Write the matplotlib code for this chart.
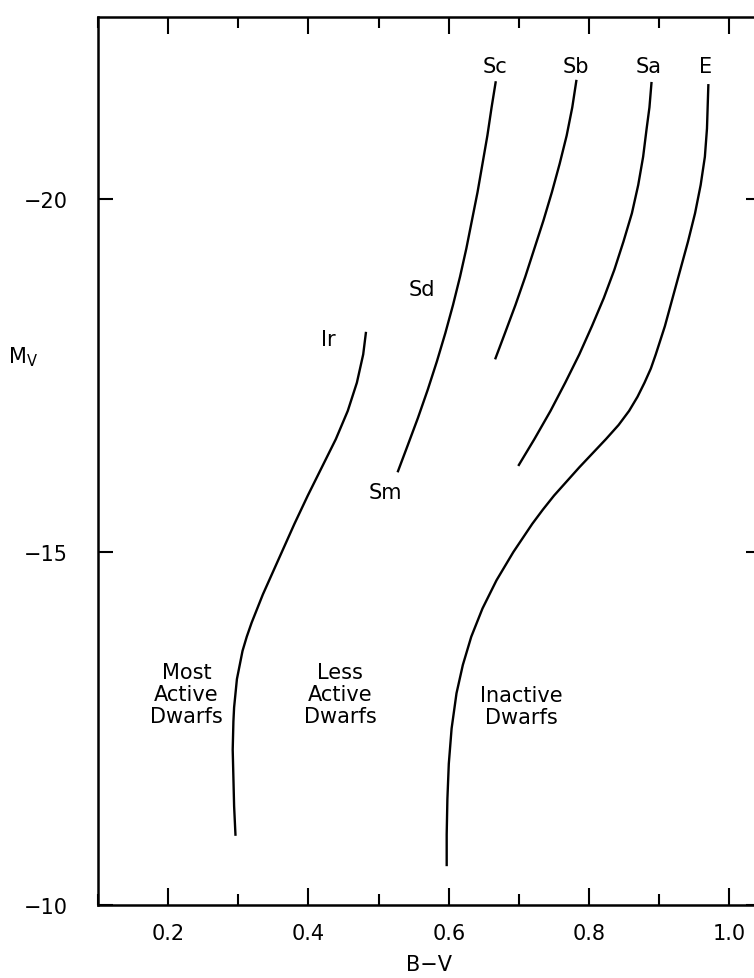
import matplotlib
matplotlib.use("Agg")
import matplotlib.pyplot as plt
from matplotlib.ticker import MultipleLocator

plt.rcParams["font.family"] = ["DejaVu Sans"]

# colour-magnitude loci (B-V, M_V), bottom -> top
ir_mv = [-10.98, -11.4, -11.8, -12.2, -12.6, -12.8, -13.0, -13.2, -13.4, -13.6,
         -13.8, -14.0, -14.2, -14.4, -14.6, -15.0, -15.4, -15.8, -16.2, -16.6,
         -17.0, -17.4, -17.8, -18.12]
ir_bv = [0.296, 0.294, 0.293, 0.292, 0.293, 0.294, 0.296, 0.298, 0.302, 0.306,
         0.312, 0.319, 0.327, 0.335, 0.344, 0.362, 0.380, 0.399, 0.419, 0.439,
         0.456, 0.469, 0.478, 0.482]

sc_mv = [-16.13, -16.5, -16.9, -17.3, -17.7, -18.1, -18.5, -18.9, -19.3, -19.7,
         -20.1, -20.5, -20.9, -21.3, -21.67]
sc_bv = [0.527, 0.541, 0.556, 0.570, 0.583, 0.595, 0.606, 0.616, 0.625, 0.633,
         0.641, 0.648, 0.655, 0.661, 0.667]

sb_mv = [-17.73, -18.1, -18.5, -18.9, -19.3, -19.7, -20.1, -20.5, -20.9, -21.3, -21.69]
sb_bv = [0.666, 0.680, 0.695, 0.709, 0.722, 0.735, 0.747, 0.758, 0.768, 0.776, 0.782]

sa_mv = [-16.22, -16.6, -17.0, -17.4, -17.8, -18.2, -18.6, -19.0, -19.4, -19.8,
         -20.2, -20.6, -21.0, -21.3, -21.66]
sa_bv = [0.699, 0.722, 0.745, 0.766, 0.786, 0.804, 0.821, 0.836, 0.849, 0.861,
         0.870, 0.877, 0.882, 0.886, 0.889]

e_mv = [-10.55, -11.0, -11.5, -12.0, -12.5, -13.0, -13.4, -13.8, -14.2, -14.6,
        -15.0, -15.4, -15.6, -15.8, -16.0, -16.2, -16.4, -16.6, -16.8, -17.0,
        -17.2, -17.4, -17.6, -17.8, -18.2, -18.6, -19.0, -19.4, -19.8, -20.2,
        -20.6, -21.0, -21.63]
e_bv = [0.597, 0.597, 0.598, 0.600, 0.604, 0.611, 0.620, 0.632, 0.648, 0.668,
        0.692, 0.719, 0.734, 0.750, 0.768, 0.786, 0.805, 0.824, 0.842, 0.857,
        0.869, 0.879, 0.888, 0.895, 0.908, 0.919, 0.930, 0.941, 0.951, 0.959,
        0.965, 0.968, 0.970]

curves = [(ir_bv, ir_mv), (sc_bv, sc_mv), (sb_bv, sb_mv), (sa_bv, sa_mv), (e_bv, e_mv)]

# type labels and where they sit
type_names = ["Sc", "Sb", "Sa", "E", "Sd", "Ir", "Sm"]
type_x = [0.666, 0.781, 0.885, 0.966, 0.562, 0.428, 0.510]
type_y = [-21.88, -21.88, -21.88, -21.88, -18.73, -18.02, -15.85]

region_names = ["Most\nActive\nDwarfs", "Less\nActive\nDwarfs", "Inactive\nDwarfs"]
region_x = [0.226, 0.445, 0.704]
region_y = [-12.99, -12.99, -12.82]

W, H = 754, 979
fig = plt.figure(figsize=(W / 100, H / 100), dpi=100)
ax = fig.add_axes([98 / W, (H - 906) / H, (761 - 98) / W, (906 - 18) / H])

for bv, mv in curves:
    ax.plot(bv, mv, color="black", lw=1.7, solid_joinstyle="round", solid_capstyle="butt")

for name, x, y in zip(type_names, type_x, type_y):
    ax.text(x, y, name, ha="center", va="center", fontsize=15)

for name, x, y in zip(region_names, region_x, region_y):
    ax.text(x, y, name, ha="center", va="center", fontsize=15, linespacing=1.15)

ax.set_xlim(0.1, 1.045)
ax.set_ylim(-10, -22.58)

ax.xaxis.set_minor_locator(MultipleLocator(0.1))
ax.set_xticks([0.2, 0.4, 0.6, 0.8, 1.0])
ax.set_xticklabels(["0.2", "0.4", "0.6", "0.8", "1.0"])
ax.set_yticks([-20, -15, -10])
ax.set_yticklabels(["\u221220", "\u221215", "\u221210"])

ax.tick_params(which="both", direction="in", top=True, right=True, width=1.5, labelsize=15)
ax.tick_params(axis="x", which="major", length=12, pad=13)
ax.tick_params(axis="x", which="minor", length=8)
ax.tick_params(axis="y", which="major", length=11, pad=22)

for s in ax.spines.values():
    s.set_linewidth(1.8)

ax.set_xlabel("B\u2212V", fontsize=15, labelpad=8)
fig.text(8 / W, 1 - 357 / H, r"$\mathregular{M_V}$", fontsize=15, ha="left", va="center")

fig.savefig("out.png", dpi=100)
